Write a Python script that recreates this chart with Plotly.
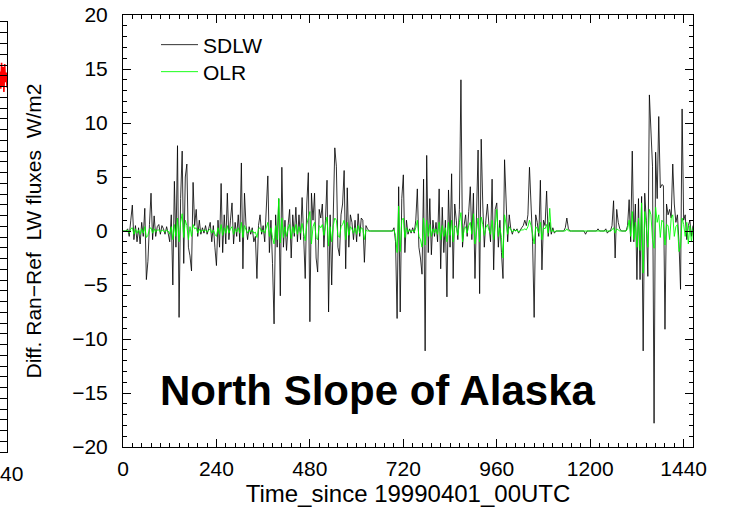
import plotly.graph_objects as go

# ---------------- data (4-hour resolution) ----------------
step_hours = 4
sdlw = [
    0, 0, 0, 0.2, -0.5, 1.0, 2.4, -0.8, 0.5, -1.0,
    0.3, -1.2, 0.8, -0.5, 2.1, -4.5, -2.8, 0.6, 3.5, -0.8,
    1.4, -0.5, 0.4, 0.6, -0.3, 0.5, 0.2, -0.3, 0.4, -0.2,
    -1.0, 1.5, -5.0, 4.6, -1.5, 7.9, -8.0, 3.0, 7.4, -3.0,
    5.0, 6.2, -1.5, -2.3, -3.7, 4.5, 0.5, 2.0, -0.5, 1.0,
    -0.3, 0.3, -0.2, 0.5, -0.3, 0.2, 0.8, -1.0, 0.5, -1.5,
    -3.2, 1.0, -1.5, 4.4, -2.0, 1.5, -1.2, 3.5, -0.8, 1.0,
    2.6, -1.2, 0.8, -0.5, 1.5, -1.0, 6.3, -3.5, 3.5, 0.5,
    -0.8, 0.4, -0.3, 0.3, -1.0, -0.5, -4.4, 0.5, 1.5, -0.3,
    0.5, -1.0, 1.5, 5.1, -2.0, 1.0, -3.0, -8.6, 1.5, -1.5,
    3.0, -6.0, 5.9, -1.5, 1.0, -1.8, 0.5, 2.0, -2.5, 1.5,
    -0.5, 2.2, -1.0, 1.5, -0.8, 3.1, -0.5, -4.4, 2.5, 5.4,
    -8.4, 3.5, 1.0, 3.5, -2.5, -3.8, 2.0, 1.2, 2.5, -1.5,
    1.0, 4.7, -7.5, 1.5, -5.0, 2.0, 7.7, 6.0, -1.5, -2.3,
    1.5, 2.5, 5.6, -3.5, 4.0, -1.5, 1.5, 0.8, -0.8, 1.0,
    -1.0, 1.6, -0.5, 1.2, 1.0, -2.9, 0.5, 0.2, 0, 0,
    0, 0, 0, 0, 0, 0, 0, 0, 0, 0,
    0, 0, 0, 0, 0.3, -1.0, -8.1, 4.1, -7.5, 3.0,
    5.2, -2.0, 1.0, -0.3, 0.2, -0.2, 0.3, -0.2, 1.0, 3.9,
    -1.5, -2.5, -4.0, 4.8, -11.1, 7.0, -2.0, 3.0, -2.2, 1.0,
    -0.5, 0.8, -1.0, 3.9, -3.5, 2.2, -2.0, 1.0, -6.1, 3.8,
    -1.5, 5.3, -4.4, 2.5, 1.0, -0.8, 2.0, 14.0, -1.5, 0.5,
    1.5, -0.5, 1.8, 4.1, -0.8, 3.5, -4.4, 1.0, 7.5, -5.8,
    8.5, 2.5, -1.5, 1.0, 2.5, 0.5, -1.0, 4.8, -3.6, 2.0,
    2.6, -1.5, 1.0, -2.0, -4.4, 6.6, 2.5, -1.0, 1.5, 0.2,
    -0.3, 0.2, 0, 0.2, -0.2, 0.1, 0.3, 0.5, 1.0, 0.5,
    1.5, 5.9, 2.0, -1.0, -8.0, 1.5, 0.8, -0.5, 4.7, -3.6,
    1.0, 0.5, 3.7, -0.5, 0.8, -0.3, 0.3, -0.2, 0, 0,
    0, 0, 0, 0, 0.3, 1.2, 0.2, 0, 0, 0,
    0, 0, 0, 0, 0, 0, 0, -0.3, 0, 0,
    0, 0, 0, 0, 0, 0.2, 0, 0, 0, 0,
    0.2, -0.2, 0, 0, 0.5, 2.8, -2.5, 2.0, 0.8, 0.2,
    0, 0, 0, 0, 0.5, 2.9, -1.0, 7.4, -1.0, 2.5,
    -4.5, 3.0, -4.5, 3.2, -11.1, 3.5, 1.0, -4.2, 12.6, 9.3,
    6.0, -17.8, 7.3, 3.0, 10.6, 4.0, 4.3, 4.2, -9.1, 2.5,
    1.5, 2.0, 1.2, 6.2, 2.5, 0.8, 1.5, -1.0, -5.4, 11.3,
    1.0, 1.5, -0.8, 0.5, 1.0, -0.5, 0.5,
]
olr = [
    0, 0, 0, 0.1, -0.2, 0.2, 0.3, -0.3, 0.2, -0.2,
    0.1, -0.3, 0.2, -0.2, 0.4, -0.6, -0.4, 0.2, 0.3, -0.2,
    0.2, -0.1, 0.1, 0.1, -0.1, 0.1, 0, -0.1, 0.1, 0,
    -0.3, 0.4, -0.8, 0.6, -0.5, 1.2, -1.0, 0.8, 1.6, -0.6,
    1.0, 0.5, -0.8, 0.4, -0.5, 0.6, 0.2, 0.3, -0.2, 0.2,
    -0.1, 0.1, 0, 0.1, -0.1, 0.1, 0.2, -0.2, 0.1, -0.3,
    -0.5, 0.3, -0.3, 0.6, -0.4, 0.3, -0.2, 0.5, -0.2, 0.2,
    0.4, -0.3, 0.2, -0.1, 0.3, -0.2, 0.8, -0.6, 0.5, 0.1,
    -0.2, 0.1, -0.1, 0.1, -0.2, -0.1, -0.6, 0.2, 0.3, -0.1,
    0.1, -0.2, 0.3, 0.8, -0.5, 0.3, -0.6, -1.2, 0.5, -0.8,
    3.0, -1.1, 1.2, -0.6, 0.4, -0.5, 0.2, 0.6, -0.7, 0.4,
    -0.2, 0.6, -0.3, 0.4, -0.2, 0.7, -0.2, -0.9, 0.6, 1.3,
    1.8, -1.2, 0.4, 0.8, -0.6, -0.8, 0.5, 0.3, 0.6, -0.4,
    0.3, 1.3, -1.4, 0.4, -1.0, 0.5, 1.2, 1.0, -0.4, -0.6,
    0.4, 0.6, 1.0, -0.8, 0.8, -0.4, 0.4, 0.2, -0.2, 0.3,
    -0.3, 0.5, -0.2, 0.3, 0.2, -0.8, 0.1, 0, 0, 0,
    0, 0, 0, 0, 0, 0, 0, 0, 0, 0,
    0, 0, 0, 0, 0.1, -0.4, -2.0, 2.3, -1.9, 1.0,
    1.2, -0.6, 0.3, -0.1, 0.1, -0.1, 0.1, -0.1, 0.3, 1.0,
    -0.5, -0.8, -1.5, 1.2, -1.3, 1.0, -0.5, 0.6, -0.5, 0.2,
    -0.2, 0.2, -0.3, 0.8, -0.8, 0.5, -0.5, 0.3, -1.0, 0.8,
    -0.4, 1.0, -1.0, 0.5, 0.3, -0.4, 0.8, 1.7, -1.0, 0.2,
    0.4, -0.2, 0.5, 0.8, -0.3, 1.6, -1.2, 0.3, 1.2, -1.0,
    1.3, 0.6, -0.4, 0.3, 0.6, 0.1, -0.3, 1.0, -0.8, 0.5,
    2.0, -0.5, 0.3, -0.6, -2.5, 1.5, 0.6, -0.3, 0.4, 0.1,
    -0.1, 0.1, 0, 0.1, -0.1, 0, 0.1, 0.1, 0.2, 0.1,
    0.4, 1.0, 0.5, -0.3, -1.2, 0.4, 0.2, -0.2, 0.8, -0.8,
    0.3, 0.2, 0.6, -0.2, 2.1, -0.1, 0.1, -0.1, 0, 0,
    0, 0, 0, 0, 0, 0.2, 0, 0, 0, 0,
    0, 0, 0, 0, 0, 0, 0, 0, 0, 0,
    0, 0, 0, 0, 0, 0, 0, 0, 0, 0,
    0, 0, 0, 0, 0.1, 0.3, -0.2, 0.2, 0.1, 0,
    0, 0, 0, 0, 0.2, 1.0, -0.5, 1.8, -0.8, 0.8,
    -1.5, 1.2, -1.8, 2.6, -3.9, 1.8, 0.5, -1.5, 2.0, 1.5,
    -0.8, -1.6, 2.2, 0.8, 1.5, -0.6, 1.0, 0.8, -1.3, 0.6,
    0.5, -0.8, 1.2, 1.5, -0.5, 0.4, 0.6, -1.9, -1.5, 1.2,
    0.6, -0.5, 0.8, -1.2, 0.5, -1.0, 0.3,
]
hours = [i * step_hours for i in range(len(sdlw))]

# neighbouring (cropped) panel: only its last hours are visible
left_hours = [1440, 1442, 1444, 1446, 1448, 1450, 1452, 1454, 1456, 1458, 1460]
left_values = [15.4, 13.8, 16.2, 14.0, 15.8, 13.5, 16.1, 14.4, 15.3, 13.9, 15.0]

x_ticks = [0, 240, 480, 720, 960, 1200, 1440]
y_ticks = [-20, -15, -10, -5, 0, 5, 10, 15, 20]

FONT = "Liberation Sans, Arial, Helvetica, sans-serif"

fig = go.Figure()
fig.add_trace(go.Scatter(x=hours, y=sdlw, mode="lines", name="SDLW", legend="legend",
                         line=dict(color="rgba(0,0,0,0.9)", width=0.9)))
fig.add_trace(go.Scatter(x=hours, y=olr, mode="lines", name="OLR", legend="legend2",
                         line=dict(color="#00ff00", width=0.9)))
fig.add_trace(go.Scatter(x=left_hours, y=left_values, mode="lines", showlegend=False,
                         line=dict(color="#ff0000", width=1.6),
                         xaxis="x2", yaxis="y2"))

W, H = 735, 508
ml, mr, mt, mb = 0, 42, 15, 56
pw, ph = W - ml - mr, H - mt - mb


def py(y_px):
    """page pixel row -> paper fraction"""
    return (ph - (y_px - mt)) / ph


axis_common = dict(showline=True, linecolor="black", linewidth=1, mirror="ticks",
                   ticks="inside", tickcolor="black", showgrid=False, zeroline=False,
                   tickfont=dict(family=FONT, size=21, color="black"))

legend_common = dict(xanchor="left", yanchor="middle", bgcolor="rgba(0,0,0,0)",
                     borderwidth=0, font=dict(family=FONT, size=21, color="black"),
                     itemwidth=37)

fig.update_layout(
    width=W, height=H, margin=dict(l=ml, r=mr, t=mt, b=mb, autoexpand=False),
    paper_bgcolor="white", plot_bgcolor="white",
    font=dict(family=FONT, color="black"),
    xaxis=dict(domain=[123 / pw, 1], range=[0, 1464], tickvals=x_ticks,
               ticklen=8, ticklabelstandoff=3,
               minor=dict(dtick=24, tick0=0, ticklen=4, ticks="inside", tickcolor="black"),
               title=dict(text="Time_since 19990401_00UTC",
                          font=dict(family=FONT, size=24), standoff=2),
               anchor="y", **axis_common),
    yaxis=dict(domain=[py(447), 1], range=[-20, 20], tickvals=y_ticks,
               ticklen=8, ticklabelstandoff=10,
               minor=dict(dtick=1, tick0=0, ticklen=4, ticks="inside", tickcolor="black"),
               title=dict(text="Diff. Ran\u2212Ref  LW fluxes  W/m2",
                          font=dict(family=FONT, size=21), standoff=24),
               anchor="x", **axis_common),
    xaxis2=dict(domain=[0, 7 / pw], range=[1440, 1458], tickvals=[1440],
                ticklen=8, ticklabelstandoff=3, ticklabeloverflow="allow",
                anchor="y2", **axis_common),
    yaxis2=dict(domain=[0, py(22)], range=[-20, 20], tickvals=y_ticks,
                ticklen=8, showticklabels=False,
                minor=dict(dtick=1, tick0=0, ticklen=4, ticks="inside", tickcolor="black"),
                anchor="x2", **axis_common),
    legend=dict(x=156 / pw, y=py(45), **legend_common),
    legend2=dict(x=156 / pw, y=py(72), **legend_common),
    showlegend=True,
    annotations=[dict(text="North Slope of Alaska", xref="paper", yref="paper",
                      x=(377 - ml) / pw, y=py(390),
                      xanchor="center", yanchor="middle", showarrow=False,
                      font=dict(family=FONT, size=42, color="black", weight="bold"))],
)

fig.write_html("out.html", config={"displayModeBar": False},
               post_script="document.body.style.margin='0';")
